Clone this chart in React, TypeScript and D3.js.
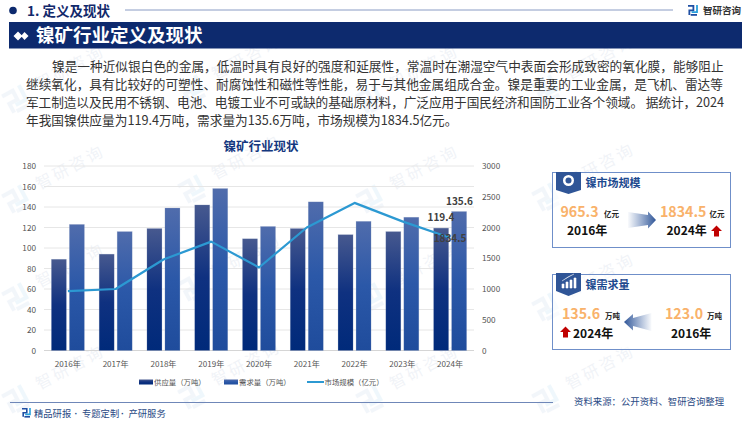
import React from "react";
import * as d3 from "d3";

const years = ["2016年", "2017年", "2018年", "2019年", "2020年", "2021年", "2022年", "2023年", "2024年"];
const supply = [89, 94, 119, 142, 109, 119, 113, 116, 119.4];
const demand = [123, 116, 139, 158, 121, 145, 126, 130, 135.6];
const market = [965.3, 1000, 1480, 1770, 1350, 2000, 2400, 2100, 1834.5];
const leftTicks = [0, 20, 40, 60, 80, 100, 120, 140, 160, 180];
const rightTicks = [0, 500, 1000, 1500, 2000, 2500, 3000];
const bodyLines = [
  "镍是一种近似银白色的金属，低温时具有良好的强度和延展性，常温时在潮湿空气中表面会形成致密的氧化膜，能够阻止",
  "继续氧化，具有比较好的可塑性、耐腐蚀性和磁性等性能，易于与其他金属组成合金。镍是重要的工业金属，是飞机、雷达等",
  "军工制造以及民用不锈钢、电池、电镀工业不可或缺的基础原材料，广泛应用于国民经济和国防工业各个领域。 据统计，2024",
  "年我国镍供应量为119.4万吨，需求量为135.6万吨，市场规模为1834.5亿元。",
];
const marks = [
  [36, 92], [212, 82], [390, 92], [566, 82],
  [36, 192], [212, 182], [390, 192], [566, 190],
  [36, 290], [212, 280], [390, 290], [566, 300],
  [36, 392], [212, 388], [390, 392], [566, 392],
];

const FONT = "'Noto Sans CJK SC', 'Noto Sans', sans-serif";
const NAVY = "#0d2a6e";

const x = d3.scaleBand<string>().domain(years).range([44, 474]);
const yL = d3.scaleLinear().domain([0, 180]).range([350.5, 166]);
const yR = d3.scaleLinear().domain([0, 3000]).range([350.5, 166]);
const cx = (y: string) => (x(y) as number) + x.bandwidth() / 2;
const lineGen = d3.line<number>().x((_, i) => cx(years[i])).y((d) => yR(d));

function Logo({ px, py, s = 1, color = "#1f4fa3" }: { px: number; py: number; s?: number; color?: string }) {
  return (
    <g transform={`translate(${px},${py}) scale(${s})`} fill="none" stroke={color} strokeWidth={2}>
      <path d="M0 1H6V6H1.500V11" />
      <path d="M10 0V8H4" stroke="#2aa0dc" />
      <path d="M3 11H10" />
    </g>
  );
}

function UpArrow({ px, py }: { px: number; py: number }) {
  return <path transform={`translate(${px},${py})`} d="M0 5.500L5.500 0L11 5.500H8V11H3V5.500Z" fill="#c00000" />;
}

export default function App() {
  return (
    <svg
      width={750}
      height={421}
      viewBox="0 0 750 421"
      style={{ position: "absolute", left: 0, top: 0, display: "block", background: "#fff" }}
      fontFamily={FONT}
    >
      <defs>
        <linearGradient id="g1" x1="0" y1="0" x2="0" y2="1">
          <stop offset="0" stopColor="#47598f" />
          <stop offset="0.5" stopColor="#0f3180" />
          <stop offset="1" stopColor="#002a7a" />
        </linearGradient>
        <linearGradient id="g2" x1="0" y1="0" x2="0" y2="1">
          <stop offset="0" stopColor="#506cac" />
          <stop offset="0.5" stopColor="#2b58a8" />
          <stop offset="1" stopColor="#1f4c9c" />
        </linearGradient>
        <linearGradient id="ar1" x1="0" y1="0" x2="1" y2="0">
          <stop offset="0" stopColor="#3f66a8" stopOpacity={0.03} />
          <stop offset="1" stopColor="#2f5597" />
        </linearGradient>
        <linearGradient id="ar2" x1="1" y1="0" x2="0" y2="0">
          <stop offset="0" stopColor="#3f66a8" stopOpacity={0.03} />
          <stop offset="1" stopColor="#2f5597" />
        </linearGradient>
      </defs>

      {/* watermark */}
      {marks.map(([mx, my], i) => (
        <g key={i} transform={`translate(${mx},${my}) rotate(-28)`} opacity={0.07}>
          <Logo px={-32} py={-14} s={2} color="#5b86c8" />
          <text x={4} y={0} fontSize={16} letterSpacing={3} fill="#3c5f9c">智研咨询</text>
        </g>
      ))}

      {/* header */}
      <circle cx={13} cy={10.500} r={3.800} fill={NAVY} />
      <text x={27} y={15.500} fontSize={13.500} fontWeight={700} fill="#12296b">1. 定义及现状</text>
      <line x1={125} x2={673} y1={10} y2={10} stroke="#8a9cc4" strokeWidth={1} />
      <Logo px={688} py={5} s={0.9} />
      <text x={703} y={14} fontSize={9.500} fontWeight={700} fill="#333">智研咨询</text>
      <rect x={9} y={22} width={733} height={26.500} fill={NAVY} />
      <path d="M13.500 36L18 31.500L22.500 36L18 40.500Z M21 36L24.500 32L28.500 36L24.500 40Z" fill="#fff" />
      <text x={36} y={41.500} fontSize={18.500} fontWeight={700} fill="#fff">镍矿行业定义及现状</text>

      {/* body */}
      {bodyLines.map((t, i) => (
        <text
          key={i}
          x={i === 0 ? 52 : 26}
          y={70.500 + i * 18.300}
          fontSize={12.680}
          fill="#333"
          textLength={i === 2 ? 698 : undefined}
        >
          {t}
        </text>
      ))}

      {/* chart */}
      <text x={261} y={150.500} textAnchor="middle" fontSize={12.500} fontWeight={700} fill="#14387f">镍矿行业现状</text>
      {leftTicks.map((t) => (
        <g key={t}>
          <line x1={44} x2={474} y1={yL(t)} y2={yL(t)} stroke={t === 0 ? "#d5d5d5" : "#e6e6e6"} strokeWidth={1} />
          <text x={36} y={yL(t) + 3} textAnchor="end" fontSize={8.200} fill="#555">{t}</text>
        </g>
      ))}
      {rightTicks.map((t) => (
        <text key={t} x={482} y={yR(t) + 3} fontSize={8.200} fill="#555">{t}</text>
      ))}
      {years.map((y, i) => (
        <g key={y}>
          <rect x={cx(y) - 16.500} y={yL(supply[i])} width={15} height={yL(0) - yL(supply[i])} fill="url(#g1)" stroke="#8fa0c4" strokeOpacity={0.35} strokeWidth={0.6} />
          <rect x={cx(y) + 1.500} y={yL(demand[i])} width={15} height={yL(0) - yL(demand[i])} fill="url(#g2)" stroke="#8fa0c4" strokeOpacity={0.35} strokeWidth={0.6} />
          <text x={cx(y)} y={367} textAnchor="middle" fontSize={8.100} fill="#555">{y}</text>
        </g>
      ))}
      <path d={lineGen(market) as string} fill="none" stroke="#2c99d2" strokeWidth={2.200} strokeLinejoin="round" />
      <text x={459.500} y={205} textAnchor="middle" fontSize={10} fontWeight={700} fill="#404040">135.6</text>
      <text x={441} y={221} textAnchor="middle" fontSize={10} fontWeight={700} fill="#404040">119.4</text>
      <text x={450} y={242} textAnchor="middle" fontSize={10} fontWeight={700} fill="#404040">1834.5</text>

      {/* legend */}
      <rect x={139} y={379.500} width={14} height={5} fill="url(#g1)" />
      <text x={154} y={385} fontSize={7.400} fill="#555">供应量（万吨）</text>
      <rect x={224} y={379.500} width={14} height={5} fill="url(#g2)" />
      <text x={239} y={385} fontSize={7.400} fill="#555">需求量（万吨）</text>
      <line x1={307} x2={324} y1={382} y2={382} stroke="#2c99d2" strokeWidth={2} />
      <text x={324.500} y={385} fontSize={7.400} fill="#555">市场规模（亿元）</text>

      {/* panel 1 */}
      <rect x={552.500} y={172.500} width={178} height={75} fill="#fff" fillOpacity={0.6} stroke="#6f8fc9" strokeWidth={1} />
      <path d="M556 172H581V190L568.500 194L556 190Z" fill="#2f5597" />
      <circle cx={568.500} cy={180.500} r={5.500} fill="#fff" />
      <circle cx={568.500} cy={180.500} r={3} fill="#2f5597" />
      <text x={585.500} y={187} fontSize={11} fontWeight={700} fill="#1d4a8f">镍市场规模</text>
      <text x={560.500} y={217} fontSize={14.200} fontWeight={700} fill="#f9b26b">965.3</text>
      <text x={604} y={217} fontSize={7.500} fontWeight={700} fill="#222">亿元</text>
      <text x={567} y={235} fontSize={12} fontWeight={700} fill="#111">2016年</text>
      <path d="M628 212L648 215V211.500L656 220L648 228.500V225L628 228Z" fill="url(#ar1)" />
      <text x={660} y={217} fontSize={14.200} fontWeight={700} fill="#f9b26b">1834.5</text>
      <text x={709.500} y={217} fontSize={7.500} fontWeight={700} fill="#222">亿元</text>
      <text x={666.500} y={235} fontSize={12} fontWeight={700} fill="#111">2024年</text>
      <UpArrow px={711} py={225.500} />

      {/* panel 2 */}
      <rect x={552.500} y={274.500} width={178} height={75} fill="#fff" fillOpacity={0.6} stroke="#6f8fc9" strokeWidth={1} />
      <path d="M556 273H581V291L568.500 296L556 291Z" fill="#2f5597" />
      <path d="M562 288V284H564V288ZM566 288V282H568V288ZM570 288V280H572V288ZM574 288V278H576V288ZM562 281L568 277L574 274" fill="#fff" stroke="#fff" strokeWidth={0.6} />
      <text x={585.500} y={289} fontSize={11} fontWeight={700} fill="#1d4a8f">镍需求量</text>
      <text x={562} y={319} fontSize={14.200} fontWeight={700} fill="#f9b26b">135.6</text>
      <text x={605} y={319} fontSize={7.500} fontWeight={700} fill="#222">万吨</text>
      <UpArrow px={560} py={326.500} />
      <text x={573} y={337.500} fontSize={12} fontWeight={700} fill="#111">2024年</text>
      <path d="M651.500 313L633 318V314L624 322L633 330.500V326L651.500 331Z" fill="url(#ar2)" />
      <text x={665} y={319} fontSize={14.200} fontWeight={700} fill="#f9b26b">123.0</text>
      <text x={707} y={319} fontSize={7.500} fontWeight={700} fill="#222">万吨</text>
      <text x={671} y={337.500} fontSize={12} fontWeight={700} fill="#111">2016年</text>

      {/* footer */}
      <line x1={10} x2={553} y1={402.500} y2={402.500} stroke="#6f87b8" strokeWidth={1} />
      <Logo px={22} py={408} s={0.8} />
      <text x={34} y={417} fontSize={9.300} fill="#2a4a85">精品研报</text>
      <text x={74.500} y={417} fontSize={9.300} fontWeight={700} fill="#2a4a85" fontFamily="'Liberation Sans'">·</text>
      <text x={82} y={417} fontSize={9.300} fill="#2a4a85">专题定制</text>
      <text x={121} y={417} fontSize={9.300} fontWeight={700} fill="#2a4a85" fontFamily="'Liberation Sans'">·</text>
      <text x={128.500} y={417} fontSize={9.300} fill="#2a4a85">产研服务</text>
      <text x={574} y={405} fontSize={9.400} fill="#2a4a85">资料来源：公开资料、智研咨询整理</text>
    </svg>
  );
}
